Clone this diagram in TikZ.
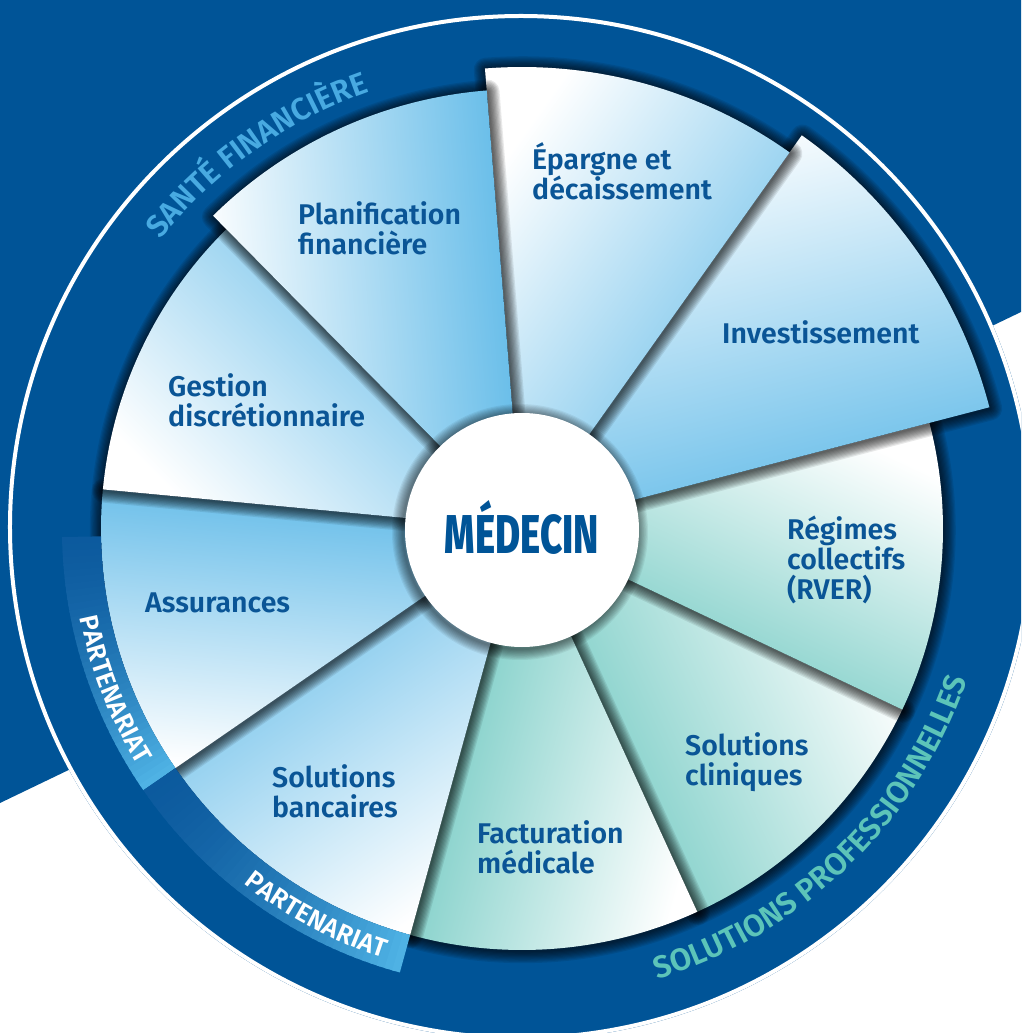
\documentclass[tikz,border=0pt]{standalone}
\usepackage{fontspec}
\usepackage{graphicx}
\setmainfont{Fira Sans}
\IfFontExistsTF{Fira Sans SemiBold}
  {\newfontfamily\textfam{Fira Sans SemiBold}}
  {\newcommand\textfam{\bfseries}}
\IfFontExistsTF{Fira Sans ExtraBold}
  {\newfontfamily\hubfam{Fira Sans ExtraBold}}
  {\newcommand\hubfam{\bfseries}}
\usetikzlibrary{decorations.text}

\definecolor{navy}{RGB}{0,84,151}
\definecolor{inkblue}{RGB}{10,85,150}
\definecolor{skyblue}{RGB}{96,186,232}
\definecolor{seateal}{RGB}{104,198,190}
\definecolor{santecol}{RGB}{72,170,225}
\definecolor{solcol}{RGB}{92,196,185}
\definecolor{bandlight}{RGB}{80,180,230}
\definecolor{banddark}{RGB}{12,90,158}

\newcommand\labelfont{\fontsize{28.5}{30}\selectfont\textfam}
\newcommand\arcfont{\fontsize{31}{31}\selectfont\textfam}
\newcommand\solfont{\fontsize{31}{31}\selectfont\textfam}
\newcommand\partfont{\fontsize{26}{26}\selectfont\textfam}

% one slice of the wheel: start angle, end angle, radius, colour
\newcommand\drawslice[4]{%
  \foreach \w in {1,...,10}{
    \pgfmathsetmacro\lw{2.4*\w}
    \draw[black, opacity=0.085, line width=\lw pt, line join=round, shift={(0.8,-1.2)}]
      (0,0) -- (#1:#3) arc[start angle=#1, end angle=#2, radius=#3] -- cycle;
  }
  \pgfmathsetmacro\ang{#2-40}
  \shade[top color=white, bottom color=#4, shading angle=\ang]
    (0,0) -- (#1:#3) arc[start angle=#1, end angle=#2, radius=#3] -- cycle;
}

% arc band fading from dark to light: start angle, end angle
\newcommand\drawband[2]{%
  \foreach \k in {0,...,39}{
    \pgfmathsetmacro\a{#1+(#2-#1)*\k/40}
    \pgfmathsetmacro\b{min(#2,#1+(#2-#1)*(\k+1.4)/40)}
    \pgfmathsetmacro\p{100*((\k+0.5)/40)^1.6}
    \fill[bandlight!\p!banddark] (\a:421) arc[start angle=\a, end angle=\b, radius=421]
      -- (\b:460) arc[start angle=\b, end angle=\a, radius=460] -- cycle;
  }
}

% labels are anchored on the baseline of their last line
\tikzset{
  lab/.style={anchor=base west, align=left, text=inkblue, font=\labelfont, inner sep=0pt},
}

\begin{document}
\begin{tikzpicture}[x=1pt, y=1pt]
  \useasboundingbox (-522,-504) rectangle (499,529);
  \clip (-522,-504) rectangle (499,529);
  \fill[white] (-522,-504) rectangle (499,529);

  % navy backdrop band and outer disc
  \fill[navy] (-522,529) -- (499,529) -- (499,217) -- (-522,-274) -- cycle;
  \fill[navy] (-1,2) circle[radius=513];
  \draw[white, line width=4pt] (-1,2) circle[radius=511];

  % slices, lowest first
  \drawslice{294.6}{334.6}{421}{seateal}
  \drawslice{254.6}{294.6}{421}{seateal}
  \drawslice{334.6}{374.6}{421}{seateal}
  \drawslice{214.6}{254.6}{421}{skyblue}
  \drawslice{14.6}{54.6}{483}{skyblue}
  \drawslice{174.6}{214.6}{421}{skyblue}
  \drawslice{54.6}{94.6}{462}{skyblue}
  \drawslice{134.6}{174.6}{421}{skyblue}
  \drawslice{94.6}{134.6}{440}{skyblue}

  % partnership bands
  \drawband{181}{214.6}
  \drawband{214.6}{254.6}

  % curved headings
  \path[decorate, decoration={text along path, text align=center,
      text={|\arcfont\color{santecol}|SANTÉ FINANCIÈRE}}]
    (158.8:463) arc[start angle=158.8, end angle=91.8, radius=463];
  \path[decorate, decoration={text along path, text align=center,
      text={|\solfont\color{solcol}|SOLUTIONS PROFESSIONNELLES}}]
    (-96:470) arc[start angle=-96, end angle=4, radius=470];
  \path[decorate, decoration={text along path, text align=center,
      text={|\partfont\color{white}|PARTENARIAT}}]
    (176.5:451) arc[start angle=176.5, end angle=226.5, radius=451];
  \path[decorate, decoration={text along path, text align=center,
      text={|\partfont\color{white}|PARTENARIAT}}]
    (217:451) arc[start angle=217, end angle=267, radius=451];

  % hub
  \foreach \w in {1,...,10}{
    \pgfmathsetmacro\lw{2.2*\w}
    \draw[black, opacity=0.06, line width=\lw pt] (-2,-3) circle[radius=117];
  }
  \fill[white] (0,-1) circle[radius=117];
  \node[anchor=base, text=navy, inner sep=0pt] (hub) at (0,-24)
    {\resizebox{154pt}{53pt}{\hubfam MÉDECIN}};

  % slice labels
  \node[lab] (plan) at (-224,274) {Planification\\financière};
  \node[lab] (gest) at (-354,102) {Gestion\\discrétionnaire};
  \node[lab] (epar) at (10,329) {Épargne et\\décaissement};
  \node[lab] (inve) at (200,185) {Investissement};
  \node[lab] (regi) at (265,-70) {Régimes\\collectifs\\(RVER)};
  \node[lab] (clin) at (163,-256) {Solutions\\cliniques};
  \node[lab] (fact) at (-45,-344) {Facturation\\médicale};
  \node[lab] (banc) at (-250,-288) {Solutions\\bancaires};
  \node[lab] (assu) at (-377,-83) {Assurances};
\end{tikzpicture}
\end{document}
